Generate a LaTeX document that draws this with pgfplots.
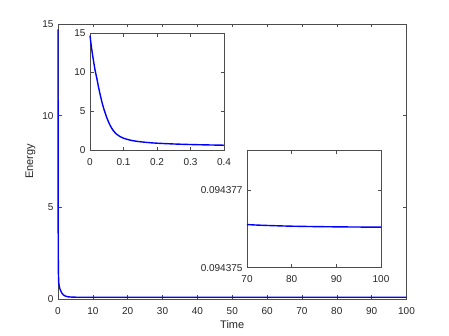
\documentclass[border=0pt]{standalone}
\usepackage{fontspec}
\setmainfont{Liberation Sans}
\usepackage{pgfplots}
\pgfplotsset{compat=1.18}

% energy vs time, full run and early part
\pgfplotstableread{
t E
0     14.7
0.005 13.0
0.01  11.6
0.015 10.3
0.02  9.3
0.025 8.2
0.03  7.2
0.035 6.3
0.04  5.5
0.05  4.2
0.06  3.2
0.07  2.5
0.08  2.05
0.09  1.75
0.10  1.55
0.12  1.3
0.14  1.15
0.16  1.05
0.18  0.97
0.20  0.91
0.25  0.81
0.30  0.74
0.35  0.69
0.40  0.65
}\early

\pgfplotstableread{
t E
0     14.7
0.02  9.3
0.06  3.2
0.10  1.55
0.2   0.91
0.4   0.65
0.6   0.53
0.8   0.44
1.0   0.36
1.25  0.29
1.5   0.23
2     0.17
2.5   0.135
3     0.118
4     0.103
5     0.098
6     0.096
8     0.0948
10    0.0945
20    0.09438
50    0.094377
100   0.094376
}\full

% late part: E - 0.094375, in units of 1e-6
\pgfplotstableread{
t dE
70  1.117
72  1.105
75  1.092
78  1.081
80  1.075
85  1.065
90  1.058
95  1.053
100 1.050
}\late

\begin{document}
\begin{tikzpicture}
\path[use as bounding box] (0pt,0pt) rectangle (449pt,336pt);
\pgfplotsset{
  every axis/.append style={
    scale only axis,
    clip=false,
    axis background/.style={fill=white},
    axis line style={black!70, line width=0.6pt},
    every tick/.style={black!70, line width=0.5pt},
    major tick length=3.5pt,
    tick label style={font=\fontsize{10}{12}\selectfont, text=black!85},
    xticklabel style={yshift=-4.5pt},
    yticklabel style={xshift=-1pt},
    label style={font=\fontsize{11}{13}\selectfont, text=black!85},
    /pgf/number format/assume math mode=true,
    scaled ticks=false,
    tick pos=both,
  },
}
\begin{axis}[
  at={(58pt,37pt)}, anchor=south west,
  width=348.5pt, height=275pt,
  xmin=0, xmax=100, ymin=0, ymax=15,
  xtick distance=10, ytick={0,5,10,15},
  xlabel={Time}, ylabel={Energy},
]
\addplot[blue, line width=1.4pt, line join=round] table[x=t, y=E] {\full};
\end{axis}

\begin{axis}[
  at={(90pt,185.7pt)}, anchor=south west,
  width=134pt, height=117pt,
  xmin=0, xmax=0.4, ymin=0, ymax=15,
  xtick={0,0.1,0.2,0.3,0.4}, ytick={0,5,10,15},
]
\addplot[blue, line width=1.4pt, line join=round, smooth] table[x=t, y=E] {\early};
\end{axis}

\begin{axis}[
  at={(247pt,68.3pt)}, anchor=south west,
  width=134pt, height=117pt,
  xmin=70, xmax=100, ymin=0, ymax=3.03,
  xtick={70,80,90,100},
  ytick={0,2}, yticklabels={0.094375,0.094377},
]
\addplot[blue, line width=1.4pt, line join=round, smooth] table[x=t, y=dE] {\late};
\end{axis}
\end{tikzpicture}
\end{document}
